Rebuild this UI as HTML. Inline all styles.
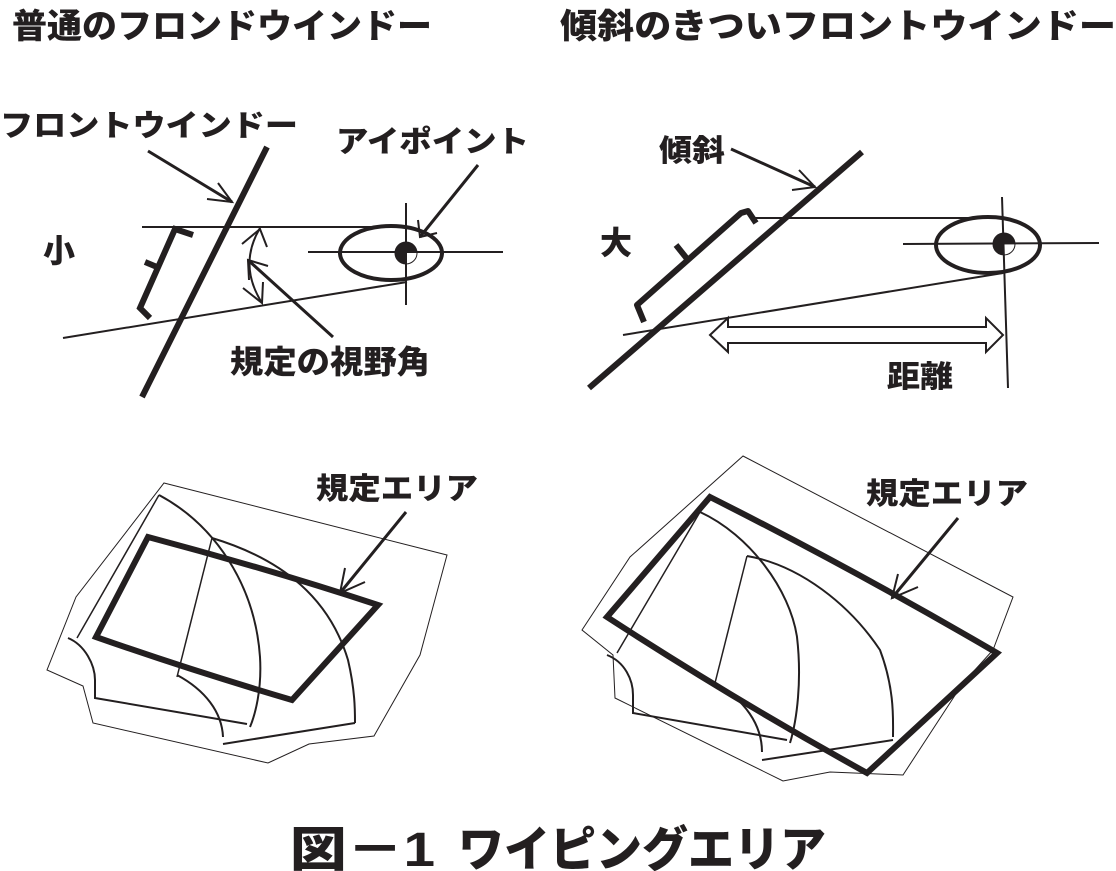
<!DOCTYPE html>
<html><head><meta charset="utf-8"><style>
html,body{margin:0;padding:0;background:#fff}
svg{display:block}
text{font-family:"Liberation Sans","Noto Sans CJK JP",sans-serif;font-weight:900;fill:#231f20}
</style></head><body>
<svg width="1116" height="871" viewBox="0 0 1116 871" xmlns="http://www.w3.org/2000/svg">
<g stroke="#231f20" fill="none" stroke-linecap="butt">
<text x="12" y="38" font-size="34" textLength="420" lengthAdjust="spacingAndGlyphs" stroke="none">普通のフロンドウインドー</text>
<text x="560" y="38" font-size="34" textLength="556" lengthAdjust="spacingAndGlyphs" stroke="none">傾斜のきついフロントウインドー</text>

<text x="0" y="136" font-size="30" textLength="298" lengthAdjust="spacingAndGlyphs" stroke="none">フロントウインドー</text>
<line x1="267" y1="147" x2="142" y2="397" stroke-width="6"/>
<line x1="148" y1="151" x2="232" y2="202" stroke-width="3"/>
<polyline points="218,183 232,202 207,199" stroke-width="2"/>
<line x1="142" y1="227" x2="407" y2="227" stroke-width="2"/>
<line x1="63" y1="338" x2="407" y2="282" stroke-width="2"/>
<polyline points="193,235 175,229 140,308 150,318" stroke-width="6"/>
<line x1="145" y1="262" x2="157" y2="267" stroke-width="6"/>
<text x="43" y="262" font-size="32" stroke="none">小</text>
<path d="M260,228 Q238,265 262,303" stroke-width="2"/>
<polyline points="242,244 260,229 267,247" stroke-width="2"/>
<polyline points="243,288 262,303 263,282" stroke-width="2"/>
<line x1="333" y1="337" x2="248" y2="260" stroke-width="3"/>
<polyline points="249,280 248,260 268,266" stroke-width="2"/>
<text x="230" y="373" font-size="32" textLength="200" lengthAdjust="spacingAndGlyphs" stroke="none">規定の視野角</text>
<ellipse cx="391" cy="253" rx="51" ry="27" stroke-width="4"/>
<line x1="406" y1="203" x2="406" y2="305" stroke-width="2"/>
<line x1="308" y1="252" x2="503" y2="252" stroke-width="2"/>
<circle cx="406" cy="253" r="11" stroke-width="1"/>
<path d="M406,242 A11,11 0 0 0 406,264 Z" fill="#231f20" stroke="none"/>
<path d="M406,253 L406,242 A11,11 0 0 1 417,253 Z" fill="#231f20" stroke="none"/>
<line x1="478" y1="165" x2="420" y2="237" stroke-width="3"/>
<polyline points="418,220 420,237 437,233" stroke-width="2"/>
<text x="336" y="152" font-size="30" textLength="193" lengthAdjust="spacingAndGlyphs" stroke="none">アイポイント</text>

<text x="659" y="161" font-size="30" textLength="66" lengthAdjust="spacingAndGlyphs" stroke="none">傾斜</text>
<line x1="862" y1="152" x2="589" y2="388" stroke-width="6"/>
<line x1="731" y1="149" x2="815" y2="187" stroke-width="3"/>
<polyline points="799,170 815,187 792,190" stroke-width="2"/>
<text x="600" y="254" font-size="32" stroke="none">大</text>
<path d="M756,223 L748,211 L741,213 L637,305 L644,322" stroke-width="6" stroke-linejoin="round"/>
<line x1="676" y1="245" x2="688" y2="260" stroke-width="6"/>
<line x1="752" y1="218" x2="1003" y2="218" stroke-width="2"/>
<line x1="623" y1="335" x2="1003" y2="273" stroke-width="2"/>
<ellipse cx="988" cy="245" rx="52" ry="28" stroke-width="4"/>
<line x1="1002" y1="197" x2="1008" y2="388" stroke-width="2"/>
<line x1="903" y1="244" x2="1099" y2="243" stroke-width="2"/>
<circle cx="1004" cy="244" r="11" stroke-width="1"/>
<path d="M1004,233 A11,11 0 0 0 1004,255 Z" fill="#231f20" stroke="none"/>
<path d="M1004,244 L1004,233 A11,11 0 0 1 1015,244 Z" fill="#231f20" stroke="none"/>
<polygon points="710,335 728,318 728,327 986,327 986,318 1003,335 986,352 986,343 728,343 728,352" stroke-width="2" fill="#fff"/>
<text x="887" y="387" font-size="30" textLength="66" lengthAdjust="spacingAndGlyphs" stroke="none">距離</text>

<polygon points="164,483 447,555 420,655 374,736 309,744 268,763 93,723 83,686 47,670 76,597" stroke-width="1"/>
<path d="M148,537 Q265,568 378,605 L292,700 Q190,670 96,637 Z" stroke-width="6" stroke-linejoin="miter"/>
<line x1="159" y1="495" x2="77" y2="638" stroke-width="1.5"/>
<path d="M159,495 C215,525 255,585 260,657 C262,690 255,715 250,727" stroke-width="2"/>
<line x1="212" y1="538" x2="177" y2="677" stroke-width="1.5"/>
<path d="M212,538 C285,560 330,600 348,660 C355,690 355,710 355,723" stroke-width="2"/>
<path d="M68,638 C85,645 95,665 95,680 L95,698 L247,724" stroke-width="2"/>
<path d="M177,675 C205,690 222,712 223,737" stroke-width="2"/>
<line x1="223" y1="744" x2="355" y2="723" stroke-width="2"/>
<line x1="406" y1="512" x2="340" y2="593" stroke-width="3"/>
<polyline points="345,568 340,593 365,582" stroke-width="2"/>
<text x="316" y="499" font-size="30" textLength="162" lengthAdjust="spacingAndGlyphs" stroke="none">規定エリア</text>

<polygon points="743,456 1013,597 993,650 963,683 903,775 830,772 783,781 615,698 613,655 582,630 630,557" stroke-width="1"/>
<path d="M710,497 Q855,570 997,653 L867,773 Q735,700 607,617 Z" stroke-width="6" stroke-linejoin="miter"/>
<line x1="700" y1="512" x2="617" y2="653" stroke-width="1.5"/>
<path d="M700,512 C750,535 790,590 797,637 C802,680 797,720 790,743" stroke-width="2"/>
<line x1="747" y1="556" x2="715" y2="683" stroke-width="1.5"/>
<path d="M747,556 C800,565 850,605 880,650 C895,690 893,720 893,737" stroke-width="2"/>
<path d="M607,655 C625,662 633,680 633,695 L633,713 L787,740" stroke-width="2"/>
<path d="M715,683 C745,700 762,725 762,752" stroke-width="2"/>
<line x1="762" y1="760" x2="893" y2="740" stroke-width="2"/>
<line x1="958" y1="518" x2="892" y2="598" stroke-width="3"/>
<polyline points="898,574 892,598 918,587" stroke-width="2"/>
<text x="866" y="504" font-size="30" textLength="162" lengthAdjust="spacingAndGlyphs" stroke="none">規定エリア</text>

<text x="290" y="866" font-size="48" textLength="145" lengthAdjust="spacingAndGlyphs" stroke="none">図－1</text>
<text x="458" y="866" font-size="48" textLength="368" lengthAdjust="spacingAndGlyphs" stroke="none">ワイピングエリア</text>
</g>
</svg>
</body></html>
